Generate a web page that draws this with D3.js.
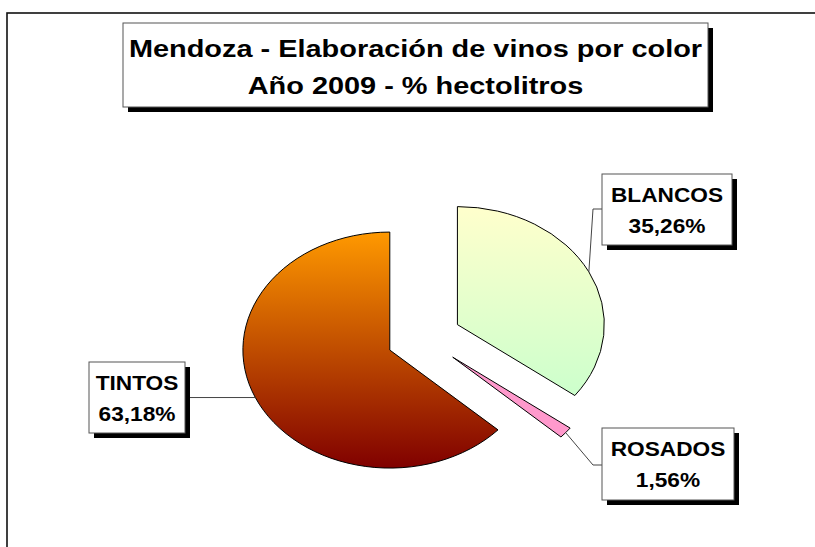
<!DOCTYPE html>
<html>
<head>
<meta charset="utf-8">
<script src="https://cdn.jsdelivr.net/npm/d3@7"></script>
<style>
  body { margin: 0; background: #fff; }
  text { font-family: "Liberation Sans", Arial, sans-serif; font-weight: bold; fill: #000; }
</style>
</head>
<body>
<svg id="chart" width="815" height="547"></svg>
<script>
// data
const categories = ["BLANCOS", "ROSADOS", "TINTOS"];
const values = [35.26, 1.56, 63.18];
const valueLabels = ["35,26%", "1,56%", "63,18%"];
const titleLines = ["Mendoza - Elaboración de vinos por color", "Año 2009 - % hectolitros"];

const svg = d3.select("#chart");
const defs = svg.append("defs");

// outer chart frame (runs off the right and bottom of the picture)
svg.append("rect")
    .attr("x", 7).attr("y", 13)
    .attr("width", 900).attr("height", 700)
    .attr("fill", "none")
    .attr("stroke", "#111")
    .attr("stroke-width", 1.6);

// box with a black drop shadow
const drawBox = (x, y, w, h) => {
    svg.append("rect")
        .attr("x", x + 5).attr("y", y + 5)
        .attr("width", w).attr("height", h)
        .attr("fill", "#000");
    svg.append("rect")
        .attr("x", x).attr("y", y)
        .attr("width", w).attr("height", h)
        .attr("fill", "#fff")
        .attr("stroke", "#555")
        .attr("stroke-width", 1);
};

// text is stretched a bit sideways, like the original
const drawText = (str, x, y, size, stretch) => {
    svg.append("text")
        .attr("transform", `translate(${x},${y}) scale(${stretch},1)`)
        .attr("text-anchor", "middle")
        .style("font-size", size + "px")
        .text(str);
};

// title
drawBox(123, 23, 585, 84);
drawText(titleLines[0], 415.5, 57, 24.5, 1.18);
drawText(titleLines[1], 415.5, 94, 24.5, 1.18);

// pie
const cx = 424, cy = 338;
const radius = 118;
const stretchX = 1.245;
const explode = 30;

const gradients = {
    BLANCOS: ["#FFFFCC", "#CCFFCC"],
    ROSADOS: ["#FF99CC", "#FF99CC"],
    TINTOS: ["#FF9900", "#800000"]
};

categories.forEach(c => {
    const g = defs.append("linearGradient")
        .attr("id", "grad-" + c)
        .attr("x1", 0).attr("y1", 0)
        .attr("x2", 0).attr("y2", 1);
    g.append("stop").attr("offset", "0%").attr("stop-color", gradients[c][0]);
    g.append("stop").attr("offset", "100%").attr("stop-color", gradients[c][1]);
});

const pieData = categories.map((c, i) => ({ name: c, value: values[i], label: valueLabels[i] }));

const pie = d3.pie()
    .sort(null)
    .value(d => d.value)
    .startAngle(0)
    .endAngle(2 * Math.PI);

const arc = d3.arc()
    .innerRadius(0)
    .outerRadius(radius);

const arcs = pie(pieData);
const midAngle = d => (d.startAngle + d.endAngle) / 2;

const pieGroup = svg.append("g")
    .attr("transform", `translate(${cx},${cy}) scale(${stretchX},1)`);

pieGroup.selectAll("path")
    .data(arcs)
    .enter().append("path")
    .attr("transform", d => {
        const a = midAngle(d);
        return `translate(${explode * Math.sin(a)},${-explode * Math.cos(a)})`;
    })
    .attr("d", arc)
    .attr("fill", d => `url(#grad-${d.data.name})`)
    .attr("stroke", "#000")
    .attr("stroke-width", 1)
    .attr("vector-effect", "non-scaling-stroke");

// point on the outer edge of each exploded slice, in page coordinates
const edgePoint = d => {
    const a = midAngle(d);
    return [cx + stretchX * (radius + explode) * Math.sin(a), cy - (radius + explode) * Math.cos(a)];
};

// label boxes
const labelBoxes = {
    BLANCOS: { x: 602, y: 174, w: 130, h: 71, side: "right", anchorY: 209 },
    ROSADOS: { x: 602, y: 428, w: 132, h: 72, side: "right", anchorY: 465 },
    TINTOS: { x: 89, y: 362, w: 96, h: 71, side: "left" }
};

arcs.forEach(d => {
    const box = labelBoxes[d.data.name];
    const p = edgePoint(d);
    let pts;
    if (box.side === "right") {
        pts = [p, [box.x - 9, box.anchorY], [box.x, box.anchorY]];
    } else {
        pts = [p, [box.x + box.w, p[1]]];
    }
    svg.append("path")
        .attr("d", d3.line()(pts))
        .attr("fill", "none")
        .attr("stroke", "#444")
        .attr("stroke-width", 1);

    drawBox(box.x, box.y, box.w, box.h);
    const mx = box.x + box.w / 2;
    drawText(d.data.name, mx, box.y + 28, 21, 1.08);
    drawText(d.data.label, mx, box.y + 59, 21, 1.08);
});
</script>
</body>
</html>
